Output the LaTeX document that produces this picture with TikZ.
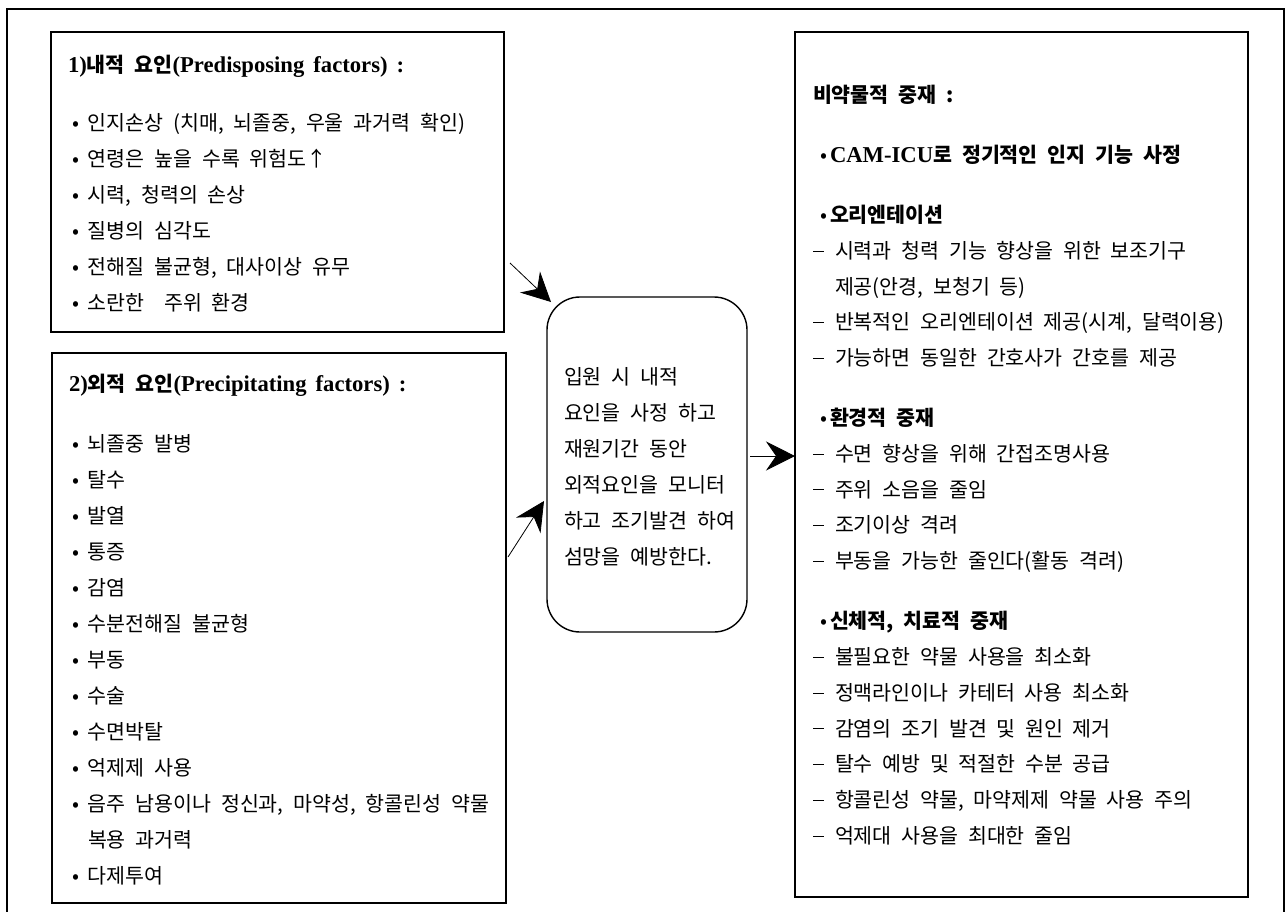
\documentclass[tikz,border=0pt]{standalone}
\usepackage{fontspec}
\setmainfont{Noto Sans CJK KR}[WordSpace=2.1]
\newfontfamily\lat{Liberation Serif}[WordSpace=1.6,Scale=1.1]
\usetikzlibrary{arrows.meta}
\tikzset{
  every node/.style={inner sep=0pt, outer sep=0pt},
  txt/.style={anchor=base west, font=\fontsize{20.6}{24}\selectfont},
  box/.style={draw, line width=1.6pt, anchor=north west},
  frame/.style={draw, line width=2.2pt},
  arr/.style={line width=0.8pt, -{Stealth[length=29pt,width=29pt,inset=10pt]}},
}
\newcommand{\bul}{\makebox[16pt][l]{•}}
\newcommand{\dsh}{\makebox[22pt][l]{\rule[6.8pt]{11pt}{0.9pt}}}
\newcommand{\rbul}{\makebox[10pt][l]{•}}
\begin{document}
\begin{tikzpicture}[x=1pt,y=-1pt]
\useasboundingbox (0,0) rectangle (1286,911);
\clip (0,0) rectangle (1286,911);
\draw[frame] (7,9) rectangle (1284,940);
% boxes
\node[box, minimum width=453pt, minimum height=300pt] (A) at (51,32) {};
\node[box, minimum width=454pt, minimum height=550pt] (B) at (52,353) {};
\node[box, line width=1.4pt, rounded corners=33pt, minimum width=200pt, minimum height=335pt] (M) at (547,297) {};
\node[box, minimum width=453pt, minimum height=865pt] (R) at (795,32) {};
% box A text
\node[txt] (Ah) at (68,72.5) {{\bfseries\lat 1)}{\bfseries 내적 요인}{\bfseries\lat (Predisposing factors) :}};
\foreach \t [count=\i] in {{인지손상 (치매, 뇌졸중, 우울 과거력 확인)},{연령은 높을 수록 위험도↑},{시력, 청력의 손상},{질병의 심각도},{전해질 불균형, 대사이상 유무},{소란한 \ 주위 환경}}
  \node[txt] (a\i) at (72,{130.5+36*(\i-1)}) {\bul\t};
% box B text
\node[txt] (Bh) at (69,391.5) {{\bfseries\lat 2)}{\bfseries 외적 요인}{\bfseries\lat (Precipitating factors) :}};
\foreach \t [count=\i] in {{뇌졸중 발병},{탈수},{발열},{통증},{감염},{수분전해질 불균형},{부동},{수술},{수면박탈},{억제제 사용},{음주 남용이나 정신과, 마약성, 항콜린성 약물}}
  \node[txt] (b\i) at (72,{451.5+36*(\i-1)}) {\bul\t};
\node[txt] (b12) at (88,847.5) {복용 과거력};
\node[txt] (b13) at (72,883.5) {\bul 다제투여};
% middle text
\foreach \t [count=\i] in {{입원 시 내적},{요인을 사정 하고},{재원기간 동안},{외적요인을 모니터},{하고 조기발견 하여},{섬망을 예방한다.}}
  \node[txt] (m\i) at (564,{384.5+36*(\i-1)}) {\t};
% right box text
\node[txt] (Rh) at (813,102.5) {\bfseries 비약물적 중재 :};
\node[txt] (r1) at (820,162.5) {\rbul{\bfseries{\lat CAM-ICU}로 정기적인 인지 기능 사정}};
\node[txt] (r2) at (820,222.5) {\rbul{\bfseries 오리엔테이션}};
\node[txt] (r3) at (813,258.3) {\dsh 시력과 청력 기능 향상을 위한 보조기구};
\node[txt] (r4) at (835,294.1) {제공(안경, 보청기 등)};
\node[txt] (r5) at (813,329.9) {\dsh 반복적인 오리엔테이션 제공(시계, 달력이용)};
\node[txt] (r6) at (813,365.7) {\dsh 가능하면 동일한 간호사가 간호를 제공};
\node[txt] (r7) at (820,425.5) {\rbul{\bfseries 환경적 중재}};
\node[txt] (r8) at (813,461.3) {\dsh 수면 향상을 위해 간접조명사용};
\node[txt] (r9) at (813,497.1) {\dsh 주위 소음을 줄임};
\node[txt] (r10) at (813,532.9) {\dsh 조기이상 격려};
\node[txt] (r11) at (813,568.7) {\dsh 부동을 가능한 줄인다(활동 격려)};
\node[txt] (r12) at (820,628.7) {\rbul{\bfseries 신체적, 치료적 중재}};
\node[txt] (r13) at (813,664.5) {\dsh 불필요한 약물 사용을 최소화};
\node[txt] (r14) at (813,700.3) {\dsh 정맥라인이나 카테터 사용 최소화};
\node[txt] (r15) at (813,736.1) {\dsh 감염의 조기 발견 및 원인 제거};
\node[txt] (r16) at (813,771.9) {\dsh 탈수 예방 및 적절한 수분 공급};
\node[txt] (r17) at (813,807.7) {\dsh 항콜린성 약물, 마약제제 약물 사용 주의};
\node[txt] (r18) at (813,843.5) {\dsh 억제대 사용을 최대한 줄임};
% arrows
\coordinate (p1) at (510,263);
\coordinate (q1) at (551,302);
\coordinate (p2) at (508,557);
\coordinate (q2) at (544,501);
\coordinate (p3) at (750,456);
\coordinate (q3) at (795,456);
\draw[arr] (p1) -- (q1);
\draw[arr] (p2) -- (q2);
\draw[arr] (p3) -- (q3);
\end{tikzpicture}
\end{document}
